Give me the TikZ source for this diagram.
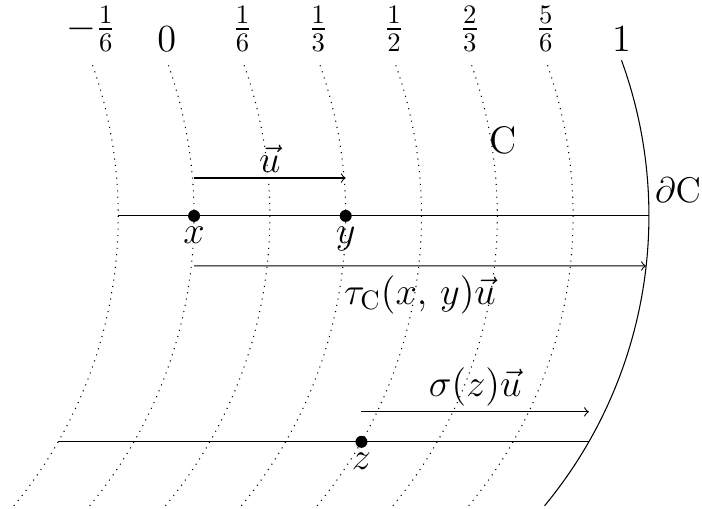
\documentclass[tikz,border=0pt]{standalone}
\usepackage{amsmath}
\usepackage{amssymb}
\usepackage{tikz}

\begin{document}
\begin{tikzpicture}[auto,
        font=\Large,
        dot/.style={circle,fill,inner sep=0pt,minimum size=4.5pt},
        every label/.style={inner sep=1.5pt}]
        \useasboundingbox (-2.56,-3.864) rectangle (6.70,2.848);
        \draw [dotted] (-7,0) ++(-39.6:6) arc [start angle=-39.6,end angle=20,radius=6] node [above,inner sep=3pt] {$-\frac{1}{6}$};
        \draw [dotted] (-6,0) ++(-39.6:6) arc [start angle=-39.6,end angle=20,radius=6] node [above,inner sep=3pt] {$0$};
        \draw [dotted] (-5,0) ++(-39.6:6) arc [start angle=-39.6,end angle=20,radius=6] node [above,inner sep=3pt] {$\frac{1}{6}$};
        \draw [dotted] (-4,0) ++(-39.6:6) arc [start angle=-39.6,end angle=20,radius=6] node [above,inner sep=3pt] {$\frac{1}{3}$};
        \draw [dotted] (-3,0) ++(-39.6:6) arc [start angle=-39.6,end angle=20,radius=6] node [above,inner sep=3pt] {$\frac{1}{2}$};
        \draw [dotted] (-2,0) ++(-39.6:6) arc [start angle=-39.6,end angle=20,radius=6] node [above,inner sep=3pt] {$\frac{2}{3}$};
        \draw [dotted] (-1,0) ++(-39.6:6) arc [start angle=-39.6,end angle=20,radius=6] node [above,inner sep=3pt] {$\frac{5}{6}$};
        \draw (0,0) ++(-39.6:6) arc [start angle=-39.6,end angle=20,radius=6] node [above,inner sep=3pt] {$1$};
        \coordinate (l1) at (-1,0);
        \coordinate (r1) at (6,0);
        \coordinate (r2) at (5.96,-0.66);
        \coordinate (l3) at (-1.792,-2.98);
        \coordinate (r3) at (5.208,-2.98);
        \draw (l1) -- (r1);
        \draw (l3) -- (r3);
        \node [dot,label=below:$x$] (x) at (0,0) {};
        \node [dot,label=below:$y$] (y) at (2,0) {};
        \node [dot,label=below:$z$] (z) at (2.208,-2.98) {};
        \draw [->] ([yshift=0.5cm]x.center) -- node [inner sep=2pt] {$\vec{u}$} ([yshift=0.5cm]y.center);
        \draw [->] ([yshift=-0.66cm]x.center) -- node [swap] {$\tau_{\mathrm{C}}(x,\,y)\vec{u}$} (r2);
        \draw [->] ([yshift=0.395cm]z.center) -- node [inner sep=2pt] {$\sigma(z)\vec{u}$} ([yshift=0.395cm]r3);
        \node (C) at (4.07,1.0) {$\mathrm{C}$};
        \node [anchor=east,inner sep=0pt,scale=0.93] (dC) at (6.69,0.34) {$\partial\mathrm{C}$};
    \end{tikzpicture}
\end{document}
